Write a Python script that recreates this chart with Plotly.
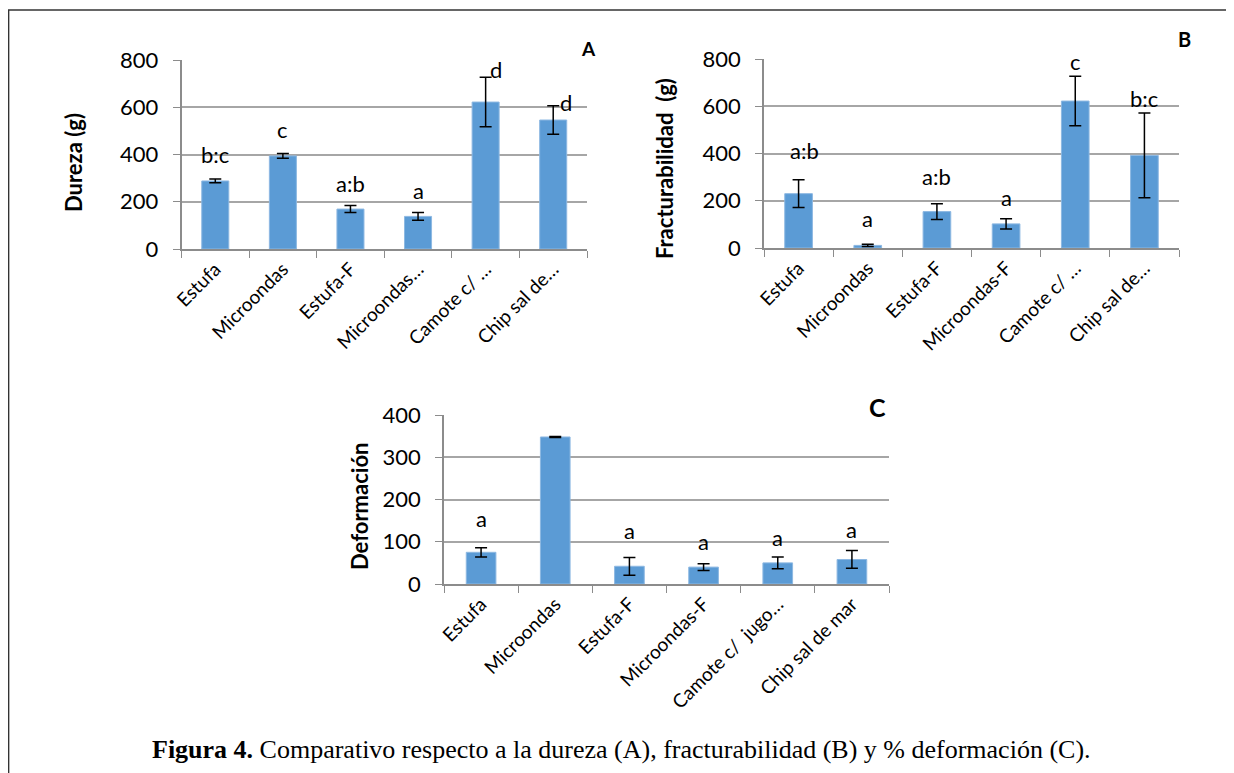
import plotly.graph_objects as go

# ---------------- data ----------------
labels_A = ["Estufa", "Microondas", "Estufa-F", "Microondas…", "Camote c/ …", "Chip sal de…"]
dureza = [288, 394, 169, 138, 622, 546]
dureza_err = [8, 10, 15, 16, 105, 60]
letters_A = ["b:c", "c", "a:b", "a", "d", "d"]
letters_A_y = [398, 504, 279, 246, 758, 622]

labels_B = ["Estufa", "Microondas", "Estufa-F", "Microondas-F", "Camote c/ …", "Chip sal de…"]
fractura = [230, 11, 154, 102, 622, 392]
fractura_err = [59, 5, 33, 22, 105, 179]
letters_B = ["a:b", "a", "a:b", "a", "c", "b:c"]
letters_B_y = [413, 124, 303, 212, 790, 631]

labels_C = ["Estufa", "Microondas", "Estufa-F", "Microondas-F", "Camote c/  jugo…", "Chip sal de mar"]
deform = [75, 348, 42, 40, 50, 58]
deform_err = [11, 1, 21, 8, 14, 21]
letters_C = ["a", "b", "a", "a", "a", "a"]
letters_C_y = [156, 401, 126, 100, 111, 130]

# page has an 8px body margin: figure is drawn 8px in from the top-left
OFF = 8
W, H = 1234 - OFF, 773 - OFF
BAR = "#5B9BD5"
GRID = "#A6A6A6"
AX = "#8C8C8C"
FONT = "Lato"


def fx(px):
    return (px - OFF) / W


def fy(py):
    return 1 - (py - OFF) / H


fig = go.Figure()

panels = [
    ("x", "y", labels_A, dureza, dureza_err, letters_A, letters_A_y,
     (181.5, 587), (60, 249), [0, 800], 200, "Dureza (g)", (74, 163)),
    ("x2", "y2", labels_B, fractura, fractura_err, letters_B, letters_B_y,
     (764, 1179), (59, 248), [0, 800], 200, "Fracturabilidad  (g)", (664, 169)),
    ("x3", "y3", labels_C, deform, deform_err, letters_C, letters_C_y,
     (444, 889), (415, 584), [0, 400], 100, "Deformación", (359, 507)),
]

# manual horizontal nudges of some letter labels (pixels)
nudge = {(0, 4): 10, (0, 5): 13, (1, 0): 6}

annotations = []
for i, (xa, ya, labs, vals, errs, lets, lety, xpx, ypx, yr, dt, ytitle, tpos) in enumerate(panels):
    fig.add_trace(go.Bar(
        x=labs, y=vals, xaxis=xa, yaxis=ya, width=0.4,
        marker=dict(color=BAR, line=dict(color="#8DB8E2", width=1)),
        error_y=dict(type="data", array=errs, color="black", thickness=1.5, width=6),
        showlegend=False,
    ))
    xkey = "xaxis" if i == 0 else f"xaxis{i+1}"
    ykey = "yaxis" if i == 0 else f"yaxis{i+1}"
    fig.update_layout(**{
        xkey: dict(
            domain=[fx(xpx[0]), fx(xpx[1])], anchor=ya, automargin=False,
            type="category", tickangle=-45,
            tickfont=dict(family=FONT, size=19, color="black"),
            showline=True, linecolor=AX, linewidth=1.5,
            ticks="outside", tickson="boundaries", ticklen=7, tickcolor=AX,
            showgrid=False, fixedrange=True,
        ),
        ykey: dict(
            domain=[fy(ypx[1]), fy(ypx[0])], anchor=xa, automargin=False,
            range=yr, dtick=dt,
            tickfont=dict(family=FONT, size=22, color="black"),
            showline=True, linecolor=AX, linewidth=1.5,
            ticks="outside", ticklen=7, tickcolor=AX, ticklabelstandoff=10,
            showgrid=True, gridcolor=GRID, gridwidth=1.5,
            zeroline=False,
        ),
    })
    annotations.append(dict(
        x=fx(tpos[0]), y=fy(tpos[1]), xref="paper", yref="paper",
        xanchor="center", yanchor="middle",
        text="<b>" + ytitle + "</b>", textangle=-90, showarrow=False,
        font=dict(family=FONT, size=22, color="black"),
    ))
    for j, (lab, t, yy) in enumerate(zip(labs, lets, lety)):
        annotations.append(dict(
            x=lab, y=yy, xref=xa, yref=ya, text=t, showarrow=False,
            xanchor="center", yanchor="middle",
            xshift=nudge.get((i, j), 0),
            font=dict(family=FONT, size=22, color="black"),
        ))

# panel letters and caption
for txt, px, py, sz, fam in [
    ("<b>A</b>", 588, 48, 19, FONT),
    ("<b>B</b>", 1184, 39, 20, FONT),
    ("<b>C</b>", 877, 407, 25, FONT),
    ("<b>Figura 4.</b> Comparativo respecto a la dureza (A), fracturabilidad (B) y % deformación (C).",
     622, 749, 26, "Liberation Serif"),
]:
    annotations.append(dict(
        x=fx(px), y=fy(py), xref="paper", yref="paper", text=txt,
        xanchor="center", yanchor="middle", showarrow=False,
        font=dict(family=fam, size=sz, color="black"),
    ))

shapes = [
    dict(type="line", xref="paper", yref="paper", x0=0, x1=1, y0=fy(10), y1=fy(10),
         line=dict(color="#333333", width=1.5)),
    dict(type="line", xref="paper", yref="paper", x0=0.0005, x1=0.0005, y0=0, y1=fy(10),
         line=dict(color="#333333", width=1.5)),
]

fig.update_layout(
    width=W, height=H,
    margin=dict(l=0, r=0, t=0, b=0, autoexpand=False),
    paper_bgcolor="white", plot_bgcolor="white",
    annotations=annotations, shapes=shapes,
    bargap=0.6,
)

fig.write_html("out.html")
